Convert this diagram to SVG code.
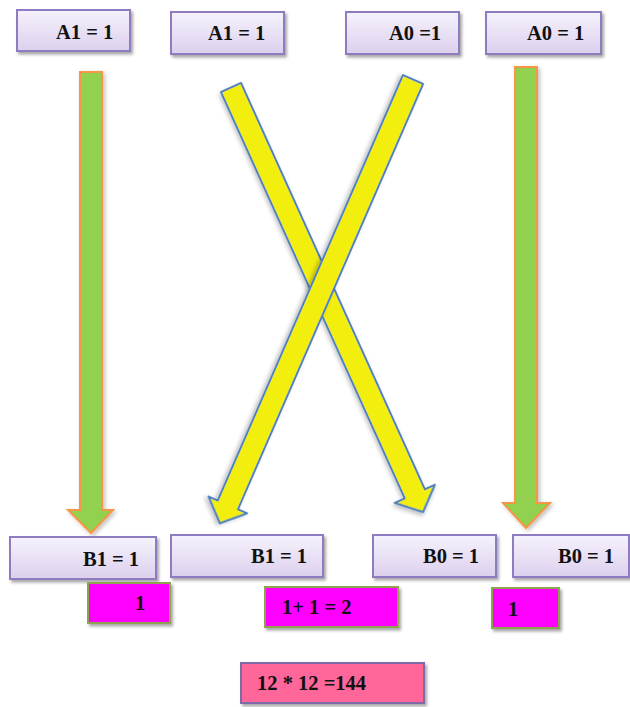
<svg xmlns="http://www.w3.org/2000/svg" width="630" height="707" viewBox="0 0 630 707">
  <defs>
    <linearGradient id="lav" x1="0" y1="0" x2="0" y2="1">
      <stop offset="0" stop-color="#f6f2fc"/>
      <stop offset="1" stop-color="#dcd0ee"/>
    </linearGradient>
    <filter id="shadow" x="-10%" y="-10%" width="130%" height="140%">
      <feDropShadow dx="2" dy="2.5" stdDeviation="1.6" flood-color="#000" flood-opacity="0.35"/>
    </filter>
    <filter id="soft" x="-10%" y="-10%" width="130%" height="130%">
      <feDropShadow dx="2" dy="2" stdDeviation="2" flood-color="#000" flood-opacity="0.25"/>
    </filter>
  </defs>
  <style>
    .bit { fill: url(#lav); stroke: #8f7cc0; stroke-width: 2; filter: url(#shadow); }
    .part { fill: #ff00ff; stroke: #8ea24f; stroke-width: 2; filter: url(#shadow); }
    .total { fill: #ff6699; stroke: #7e6aa6; stroke-width: 2; filter: url(#shadow); }
    .lbl { font-family: "Liberation Serif", "Times New Roman", serif; font-weight: bold; font-size: 20.5px; fill: #111; }
    .straight { fill: #92d050; stroke: #f79646; stroke-width: 2; filter: url(#soft); }
    .cross { fill: #f2ee10; stroke: #4f81bd; stroke-width: 2; stroke-linejoin: round; filter: url(#soft); }
  </style>
  <rect width="630" height="707" fill="#fff"/>

  <!-- connectors -->
  <g id="connectors">
    <!-- A1 -> B1 straight -->
    <polygon class="straight" points="80,72 102,72 102,510 113,510 91,533 68,510 80,510"/>
    <!-- A0 -> B0 straight -->
    <polygon class="straight" points="515,67 537,67 537,503 550,503 526,528 503,503 515,503"/>
    <!-- A1 -> B0 cross -->
    <polygon class="cross" transform="translate(231,87.5) rotate(65.66)" points="0,-11 446,-11 446,-22 466,0 446,22 446,11 0,11"/>
    <!-- A0 -> B1 cross -->
    <polygon class="cross" transform="translate(413,79.5) rotate(113.52)" points="0,-11 464,-11 464,-21 484,0 464,21 464,11 0,11"/>
  </g>

  <!-- top row -->
  <g id="a1-left">
    <rect class="bit" x="17" y="10" width="113" height="41"/>
    <text class="lbl" x="56" y="39">A1 = 1</text>
  </g>
  <g id="a1-right">
    <rect class="bit" x="171" y="12" width="113" height="42"/>
    <text class="lbl" x="208" y="40">A1 = 1</text>
  </g>
  <g id="a0-left">
    <rect class="bit" x="346" y="12" width="113" height="42"/>
    <text class="lbl" x="389" y="40">A0 =1</text>
  </g>
  <g id="a0-right">
    <rect class="bit" x="486" y="12" width="115" height="42"/>
    <text class="lbl" x="527" y="40">A0 = 1</text>
  </g>

  <!-- bottom row -->
  <g id="b1-left">
    <rect class="bit" x="10" y="537" width="146" height="42"/>
    <text class="lbl" x="83" y="566">B1 = 1</text>
  </g>
  <g id="b1-right">
    <rect class="bit" x="171" y="535" width="152" height="42"/>
    <text class="lbl" x="251" y="563">B1 = 1</text>
  </g>
  <g id="b0-left">
    <rect class="bit" x="373" y="535" width="123" height="42"/>
    <text class="lbl" x="423" y="563">B0 = 1</text>
  </g>
  <g id="b0-right">
    <rect class="bit" x="513" y="535" width="116" height="42"/>
    <text class="lbl" x="558" y="563">B0 = 1</text>
  </g>

  <!-- partial products -->
  <g id="p-left">
    <rect class="part" x="88" y="583" width="82" height="40"/>
    <text class="lbl" x="135" y="610">1</text>
  </g>
  <g id="p-mid">
    <rect class="part" x="265" y="587" width="133" height="40"/>
    <text class="lbl" x="282" y="614">1+ 1 = 2</text>
  </g>
  <g id="p-right">
    <rect class="part" x="492" y="588" width="67" height="40"/>
    <text class="lbl" x="508" y="616">1</text>
  </g>

  <!-- result -->
  <g id="result">
    <rect class="total" x="241" y="663" width="183" height="40"/>
    <text class="lbl" x="257" y="690">12 * 12 =144</text>
  </g>
</svg>
